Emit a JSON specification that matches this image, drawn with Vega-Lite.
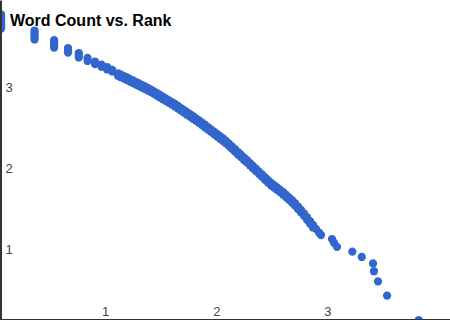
{
  "$schema": "https://vega.github.io/schema/vega-lite/v6.json",
  "width": 450,
  "height": 320,
  "autosize": {"type": "none"},
  "padding": 0,
  "background": "white",
  "title": {"text": "Word Count vs. Rank", "anchor": "start", "frame": "group", "dx": 10, "offset": -42, "baseline": "alphabetic", "font": "Liberation Sans", "fontSize": 16, "fontWeight": "bold", "color": "#000000"},
  "config": {"view": {"stroke": null}},
  "data": {"values": [
    {"log_count": 0, "log_rank": 3.772}, {"log_count": 0, "log_rank": 3.747}, {"log_count": 0, "log_rank": 3.722}, {"log_count": 0, "log_rank": 3.698},
    {"log_count": 0, "log_rank": 3.673}, {"log_count": 0, "log_rank": 3.648}, {"log_count": 0, "log_rank": 3.623}, {"log_count": 0, "log_rank": 3.599},
    {"log_count": 0.301, "log_rank": 3.574}, {"log_count": 0.301, "log_rank": 3.546}, {"log_count": 0.301, "log_rank": 3.519}, {"log_count": 0.301, "log_rank": 3.491}, {"log_count": 0.301, "log_rank": 3.463},
    {"log_count": 0.477, "log_rank": 3.455}, {"log_count": 0.477, "log_rank": 3.430}, {"log_count": 0.477, "log_rank": 3.398}, {"log_count": 0.477, "log_rank": 3.364},
    {"log_count": 0.602, "log_rank": 3.358}, {"log_count": 0.602, "log_rank": 3.333}, {"log_count": 0.602, "log_rank": 3.302},
    {"log_count": 0.699, "log_rank": 3.296}, {"log_count": 0.699, "log_rank": 3.272}, {"log_count": 0.699, "log_rank": 3.241},
    {"log_count": 0.778, "log_rank": 3.235}, {"log_count": 0.778, "log_rank": 3.198},
    {"log_count": 0.845, "log_rank": 3.191}, {"log_count": 0.845, "log_rank": 3.160},
    {"log_count": 0.903, "log_rank": 3.154}, {"log_count": 0.903, "log_rank": 3.127},
    {"log_count": 0.954, "log_rank": 3.123}, {"log_count": 0.954, "log_rank": 3.093},
    {"log_count": 1.0, "log_rank": 3.088}, {"log_count": 1.0, "log_rank": 3.068},
    {"log_count": 1.052, "log_rank": 3.046}, {"log_count": 1.079, "log_rank": 3.028}, {"log_count": 1.106, "log_rank": 3.011}, {"log_count": 1.133, "log_rank": 2.994},
    {"log_count": 1.160, "log_rank": 2.975}, {"log_count": 1.187, "log_rank": 2.957}, {"log_count": 1.214, "log_rank": 2.938}, {"log_count": 1.241, "log_rank": 2.920},
    {"log_count": 1.268, "log_rank": 2.901}, {"log_count": 1.295, "log_rank": 2.883}, {"log_count": 1.322, "log_rank": 2.864}, {"log_count": 1.349, "log_rank": 2.844},
    {"log_count": 1.376, "log_rank": 2.822}, {"log_count": 1.403, "log_rank": 2.800}, {"log_count": 1.430, "log_rank": 2.778}, {"log_count": 1.457, "log_rank": 2.756},
    {"log_count": 1.484, "log_rank": 2.733}, {"log_count": 1.511, "log_rank": 2.711}, {"log_count": 1.538, "log_rank": 2.689}, {"log_count": 1.565, "log_rank": 2.667},
    {"log_count": 1.592, "log_rank": 2.642}, {"log_count": 1.619, "log_rank": 2.616}, {"log_count": 1.646, "log_rank": 2.591}, {"log_count": 1.673, "log_rank": 2.565},
    {"log_count": 1.700, "log_rank": 2.541}, {"log_count": 1.727, "log_rank": 2.516}, {"log_count": 1.754, "log_rank": 2.490}, {"log_count": 1.781, "log_rank": 2.465},
    {"log_count": 1.808, "log_rank": 2.438}, {"log_count": 1.835, "log_rank": 2.410}, {"log_count": 1.862, "log_rank": 2.381}, {"log_count": 1.889, "log_rank": 2.353},
    {"log_count": 1.916, "log_rank": 2.326}, {"log_count": 1.943, "log_rank": 2.298}, {"log_count": 1.970, "log_rank": 2.269}, {"log_count": 1.997, "log_rank": 2.241},
    {"log_count": 2.024, "log_rank": 2.211}, {"log_count": 2.051, "log_rank": 2.177}, {"log_count": 2.078, "log_rank": 2.143}, {"log_count": 2.105, "log_rank": 2.109},
    {"log_count": 2.132, "log_rank": 2.074}, {"log_count": 2.159, "log_rank": 2.041}, {"log_count": 2.186, "log_rank": 2.006}, {"log_count": 2.213, "log_rank": 1.973},
    {"log_count": 2.240, "log_rank": 1.938}, {"log_count": 2.267, "log_rank": 1.902}, {"log_count": 2.294, "log_rank": 1.868}, {"log_count": 2.321, "log_rank": 1.832},
    {"log_count": 2.348, "log_rank": 1.798}, {"log_count": 2.375, "log_rank": 1.762}, {"log_count": 2.402, "log_rank": 1.727}, {"log_count": 2.429, "log_rank": 1.694},
    {"log_count": 2.456, "log_rank": 1.665}, {"log_count": 2.483, "log_rank": 1.637}, {"log_count": 2.510, "log_rank": 1.609}, {"log_count": 2.537, "log_rank": 1.580},
    {"log_count": 2.564, "log_rank": 1.547}, {"log_count": 2.591, "log_rank": 1.514}, {"log_count": 2.618, "log_rank": 1.480}, {"log_count": 2.645, "log_rank": 1.442},
    {"log_count": 2.672, "log_rank": 1.401}, {"log_count": 2.699, "log_rank": 1.360}, {"log_count": 2.726, "log_rank": 1.317}, {"log_count": 2.753, "log_rank": 1.269},
    {"log_count": 2.780, "log_rank": 1.221}, {"log_count": 2.807, "log_rank": 1.173}, {"log_count": 2.834, "log_rank": 1.126}, {"log_count": 2.861, "log_rank": 1.080},
    {"log_count": 2.879, "log_rank": 1.049},
    {"log_count": 1.052, "log_rank": 3.015}, {"log_count": 1.079, "log_rank": 2.997}, {"log_count": 1.106, "log_rank": 2.980}, {"log_count": 1.133, "log_rank": 2.963},
    {"log_count": 1.160, "log_rank": 2.944}, {"log_count": 1.187, "log_rank": 2.926}, {"log_count": 1.214, "log_rank": 2.907}, {"log_count": 1.241, "log_rank": 2.889},
    {"log_count": 1.268, "log_rank": 2.870}, {"log_count": 1.295, "log_rank": 2.852}, {"log_count": 1.322, "log_rank": 2.833}, {"log_count": 1.349, "log_rank": 2.813},
    {"log_count": 1.376, "log_rank": 2.791}, {"log_count": 1.403, "log_rank": 2.769}, {"log_count": 1.430, "log_rank": 2.747}, {"log_count": 1.457, "log_rank": 2.725},
    {"log_count": 1.484, "log_rank": 2.702}, {"log_count": 1.511, "log_rank": 2.680}, {"log_count": 1.538, "log_rank": 2.658}, {"log_count": 1.565, "log_rank": 2.636},
    {"log_count": 1.592, "log_rank": 2.611}, {"log_count": 1.619, "log_rank": 2.585}, {"log_count": 1.646, "log_rank": 2.560}, {"log_count": 1.673, "log_rank": 2.534},
    {"log_count": 1.700, "log_rank": 2.510}, {"log_count": 1.727, "log_rank": 2.485}, {"log_count": 1.754, "log_rank": 2.459}, {"log_count": 1.781, "log_rank": 2.434},
    {"log_count": 1.808, "log_rank": 2.407}, {"log_count": 1.835, "log_rank": 2.379}, {"log_count": 1.862, "log_rank": 2.350}, {"log_count": 1.889, "log_rank": 2.322},
    {"log_count": 1.916, "log_rank": 2.295}, {"log_count": 1.943, "log_rank": 2.267}, {"log_count": 1.970, "log_rank": 2.238}, {"log_count": 1.997, "log_rank": 2.210},
    {"log_count": 2.024, "log_rank": 2.180}, {"log_count": 2.051, "log_rank": 2.146}, {"log_count": 2.078, "log_rank": 2.112}, {"log_count": 2.105, "log_rank": 2.078},
    {"log_count": 2.132, "log_rank": 2.043}, {"log_count": 2.159, "log_rank": 2.010}, {"log_count": 2.186, "log_rank": 1.975}, {"log_count": 2.213, "log_rank": 1.942},
    {"log_count": 2.240, "log_rank": 1.907}, {"log_count": 2.267, "log_rank": 1.871}, {"log_count": 2.294, "log_rank": 1.837}, {"log_count": 2.321, "log_rank": 1.801},
    {"log_count": 2.348, "log_rank": 1.767}, {"log_count": 2.375, "log_rank": 1.731}, {"log_count": 2.402, "log_rank": 1.696}, {"log_count": 2.429, "log_rank": 1.663},
    {"log_count": 2.456, "log_rank": 1.634}, {"log_count": 2.483, "log_rank": 1.606}, {"log_count": 2.510, "log_rank": 1.578}, {"log_count": 2.537, "log_rank": 1.549},
    {"log_count": 2.564, "log_rank": 1.516}, {"log_count": 2.591, "log_rank": 1.483}, {"log_count": 2.618, "log_rank": 1.449}, {"log_count": 2.645, "log_rank": 1.411},
    {"log_count": 2.672, "log_rank": 1.370}, {"log_count": 2.699, "log_rank": 1.329}, {"log_count": 2.726, "log_rank": 1.286}, {"log_count": 2.753, "log_rank": 1.238},
    {"log_count": 2.780, "log_rank": 1.190}, {"log_count": 2.807, "log_rank": 1.142},
    {"log_count": 2.978, "log_rank": 1.0}, {"log_count": 2.996, "log_rank": 0.954}, {"log_count": 3.023, "log_rank": 0.903},
    {"log_count": 3.161, "log_rank": 0.845}, {"log_count": 3.246, "log_rank": 0.778}, {"log_count": 3.347, "log_rank": 0.699},
    {"log_count": 3.356, "log_rank": 0.602}, {"log_count": 3.392, "log_rank": 0.477}, {"log_count": 3.474, "log_rank": 0.301},
    {"log_count": 3.759, "log_rank": 0.0}
  ]},
  "mark": {"type": "circle", "size": 68, "color": "#3366cc", "opacity": 1, "clip": true},
  "encoding": {
    "x": {
      "field": "log_count", "type": "quantitative",
      "scale": {"domain": [-0.01, 4.04], "nice": false, "zero": false},
      "axis": {"title": null, "values": [1, 2, 3], "grid": false, "ticks": false, "tickSize": 0, "domainColor": "#333333", "domainWidth": 3, "labelPadding": -5, "labelBaseline": "alphabetic", "labelOffset": -7, "labelFont": "Liberation Sans", "labelFontSize": 13, "labelColor": "#444444", "labelFlush": false, "zindex": 1}
    },
    "y": {
      "field": "log_rank", "type": "quantitative",
      "scale": {"domain": [0, 3.9506], "nice": false, "zero": false},
      "axis": {"title": null, "values": [1, 2, 3], "grid": false, "ticks": false, "tickSize": 0, "domainColor": "#333333", "domainWidth": 3, "labelAlign": "left", "labelPadding": -5, "labelBaseline": "middle", "labelOffset": 10.5, "labelFont": "Liberation Sans", "labelFontSize": 13, "labelColor": "#444444", "labelFlush": false, "zindex": 1}
    }
  }
}
